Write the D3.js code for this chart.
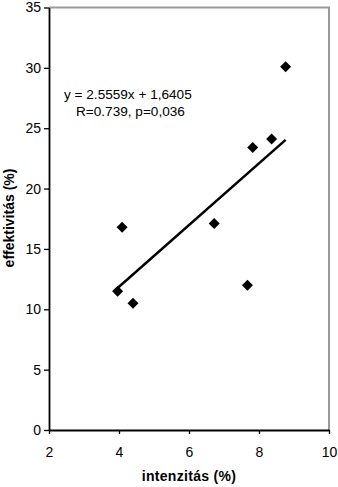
<!DOCTYPE html>
<html>
<head>
<meta charset="utf-8">
<script src="https://cdn.jsdelivr.net/npm/d3@7"></script>
<style>
body { margin: 0; background: #fff; }
text { font-family: "Liberation Sans", Arial, sans-serif; fill: #000; }
</style>
</head>
<body>
<div id="chart"></div>
<script>
// data
var intenzitas   = [3.96, 4.09, 4.40, 6.72, 7.67, 7.82, 8.36, 8.76];
var effektivitas = [11.5, 16.8, 10.5, 17.1, 12.0, 23.4, 24.1, 30.1];
var xTicks = [2, 4, 6, 8, 10];
var yTicks = [0, 5, 10, 15, 20, 25, 30, 35];
var slope = 2.5559, intercept = 1.6405;
var eqLabel = "y = 2.5559x + 1,6405";
var rLabel = "R=0.739, p=0,036";

var width = 338, height = 487,
	margin = {top: 7.5, right: 9, bottom: 57, left: 49};

var svg = d3.select("#chart").append("svg")
	.attr("width", width)
	.attr("height", height);

var x = d3.scaleLinear().domain([2, 10]).range([margin.left, width - margin.right]);
var y = d3.scaleLinear().domain([0, 35]).range([height - margin.bottom, margin.top]);

// plot area border (grey, top and right)
svg.append("path")
	.attr("d", "M" + x(2) + "," + y(35) + "H" + x(10) + "V" + y(0))
	.attr("fill", "none")
	.attr("stroke", "#999")
	.attr("stroke-width", 2);

var xAxis = svg.append("g")
	.attr("transform", "translate(0," + y(0) + ")")
	.call(d3.axisBottom(x).tickValues(xTicks).tickSize(4).tickPadding(13).tickSizeOuter(0));
var yAxis = svg.append("g")
	.attr("transform", "translate(" + x(2) + ",0)")
	.call(d3.axisLeft(y).tickValues(yTicks).tickSize(5).tickPadding(3).tickSizeOuter(0));

[xAxis, yAxis].forEach(function(g){
	g.select(".domain").attr("stroke", "#000").attr("stroke-width", 1.8);
	g.selectAll(".tick line").attr("stroke", "#000").attr("stroke-width", 1.3);
	g.selectAll(".tick text")
		.style("font-family", "'Liberation Sans', Arial, sans-serif")
		.style("font-size", "14px")
		.attr("fill", "#111");
});

// trend line
var xmin = d3.min(intenzitas), xmax = d3.max(intenzitas);
svg.append("line")
	.attr("x1", x(xmin)).attr("y1", y(slope * xmin + intercept))
	.attr("x2", x(xmax)).attr("y2", y(slope * xmax + intercept))
	.attr("stroke", "#000")
	.attr("stroke-width", 2.5);

// diamond markers
var r = 5.5;
svg.selectAll("path.pt")
	.data(intenzitas)
	.enter().append("path")
		.attr("class", "pt")
		.attr("fill", "#000")
		.attr("d", function(d, i){
			var cx = x(d), cy = y(effektivitas[i]);
			return "M" + cx + "," + (cy - r) + "L" + (cx + r) + "," + cy +
				"L" + cx + "," + (cy + r) + "L" + (cx - r) + "," + cy + "Z";
		});

// regression label
svg.append("text").attr("x", 64).attr("y", 99).style("font-size", "13.6px").text(eqLabel);
svg.append("text").attr("x", 76).attr("y", 116).style("font-size", "13.6px").text(rLabel);

// axis titles
svg.append("text")
	.attr("x", x(6)).attr("y", 481)
	.attr("text-anchor", "middle")
	.style("font-size", "14px").style("font-weight", "bold")
	.style("letter-spacing", "0.3px")
	.text("intenzitás (%)");
svg.append("text")
	.attr("transform", "translate(14,218) rotate(-90)")
	.attr("text-anchor", "middle")
	.style("font-size", "14px").style("font-weight", "bold")
	.text("effektivitás (%)");
</script>
</body>
</html>
